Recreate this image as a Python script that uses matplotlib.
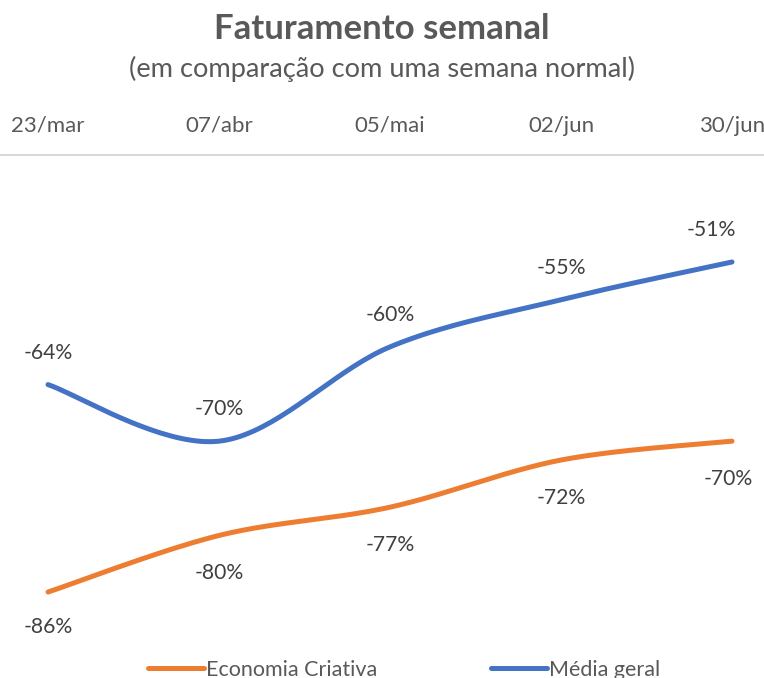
import matplotlib.pyplot as plt
import numpy as np

plt.rcParams["font.family"] = ["Lato", "DejaVu Sans"]

weeks = ["23/mar", "07/abr", "05/mai", "02/jun", "30/jun"]
media_geral = [-64, -70, -60, -55, -51]
economia_criativa = [-86, -80, -77, -72, -70]

blue = "#4472C4"
orange = "#ED7D31"
grey = "#595959"


def smooth(xs, ys, n=40):
    # catmull-rom style smoothing, like excel's "smoothed line"
    pts = np.column_stack([xs, ys]).astype(float)
    pts = np.vstack([pts[0], pts, pts[-1]])
    out = []
    for i in range(1, len(pts) - 2):
        p0, p1, p2, p3 = pts[i - 1], pts[i], pts[i + 1], pts[i + 2]
        c1 = p1 + (p2 - p0) / 6
        c2 = p2 - (p3 - p1) / 6
        t = np.linspace(0, 1, n)[:, None]
        seg = (1 - t) ** 3 * p1 + 3 * (1 - t) ** 2 * t * c1 + 3 * (1 - t) * t ** 2 * c2 + t ** 3 * p2
        out.append(seg)
    seg = np.vstack(out)
    return seg[:, 0], seg[:, 1]


fig = plt.figure(figsize=(7.64, 6.78), dpi=100)
W, H = 764, 678
top_px, bot_px = 155, 640
ax = fig.add_axes([0, 1 - bot_px / H, 1, (bot_px - top_px) / H])

x = np.arange(len(weeks))
sx, sy = smooth(x, economia_criativa)
ax.plot(sx, sy, color=orange, lw=3.6, solid_capstyle="round", label="Economia Criativa")
sx, sy = smooth(x, media_geral)
ax.plot(sx, sy, color=blue, lw=3.6, solid_capstyle="round", label="Média geral")

ppu = 9.43
ymax = -51 + (262 - top_px) / ppu
ax.set_xlim(-48 / 171, 4 + 32 / 171)
ax.set_ylim(ymax - (bot_px - top_px) / ppu, ymax)

for i, v in enumerate(media_geral):
    xo = -0.12 if i == len(weeks) - 1 else 0
    ax.annotate(f"{v}%", (i + xo, v), xytext=(0, 23), textcoords="offset points",
                ha="center", va="center", fontsize=15.2, color="#404040")
for i, v in enumerate(economia_criativa):
    xo = -0.02 if i == len(weeks) - 1 else 0
    off = -25 if i == 0 else -27
    ax.annotate(f"{v}%", (i + xo, v), xytext=(0, off), textcoords="offset points",
                ha="center", va="center", fontsize=15.2, color="#404040")

ax.xaxis.tick_top()
ax.set_xticks(x)
ax.set_xticklabels(weeks, fontsize=16, color=grey)
ax.tick_params(axis="x", length=0, pad=14)
ax.set_yticks([])
for s in ["left", "right", "bottom"]:
    ax.spines[s].set_visible(False)
ax.spines["top"].set_color("#D9D9D9")
ax.spines["top"].set_linewidth(1.5)

fig.text(0.5, 1 - 29 / H, "Faturamento semanal", ha="center", va="center",
         fontsize=25, fontweight="bold", color=grey)
fig.text(0.5, 1 - 69 / H, "(em comparação com uma semana normal)", ha="center", va="center",
         fontsize=19.6, color=grey)

fig.legend(loc="center", bbox_to_anchor=(0.5 + 22 / W, 1 - 670 / H), ncol=2, frameon=False,
           fontsize=15.5, labelcolor=grey, handlelength=2.6, handletextpad=0.1,
           columnspacing=5.3)

fig.savefig("out.png", dpi=100)
